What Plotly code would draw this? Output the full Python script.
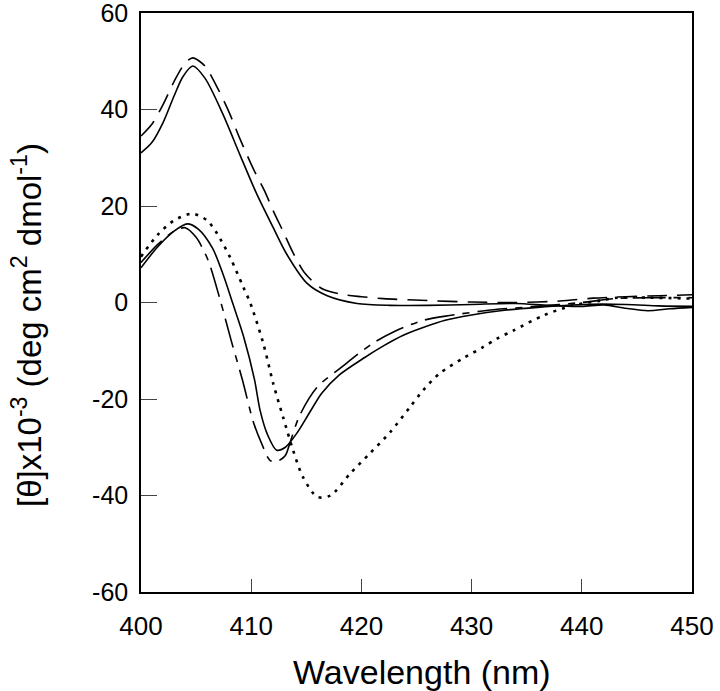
import plotly.graph_objects as go

# Upper solid curve
a_x = [400, 401.0, 402.0, 403.0, 403.8, 404.7, 405.8, 407.4, 409.0, 410.5, 412.0, 413.2, 415.1, 416.9, 419.6, 422.6,
       426, 430, 434, 437, 440, 442, 444, 446, 448, 450]
a_y = [31, 33.2, 37.3, 42.8, 46.8, 49, 46.5, 39.2, 30.5, 22.5, 15.5, 10.1, 3.9, 1.4, -0.2, -0.6,
       -0.6, -0.4, -0.2, -0.6, -0.8, -0.5, -1.2, -1.7, -1.3, -1.0]

# Upper dashed curve
b_x = [400, 401.0, 402.0, 403.0, 404.0, 404.7, 405.8, 407.0, 408.0, 409.0, 410.3, 411.2, 412.0, 412.9, 413.8, 414.9,
       416.4, 418.2, 420, 422, 426, 430, 434, 438, 441, 444, 447, 450]
b_y = [34.5, 37, 41, 45.8, 49.6, 50.7, 49, 44.2, 39.4, 33.8, 27.2, 23.2, 19, 14.7, 10.3, 6.0,
       2.9, 1.7, 1.2, 0.8, 0.4, 0.1, 0, 0.3, 0.9, 1.2, 1.4, 1.6]

# Dotted curve
c_x = [400, 401.5, 403, 404.7, 406, 406.9, 408.1, 409.3, 409.9, 411.1, 412.0, 412.9, 413.8, 414.7, 416.0, 417.2,
       419.0, 420.8, 422.6, 424.4, 425.6, 427.1, 429.2, 431.0, 432.3, 433.8, 436.5, 439.2, 441.7, 443.2, 446.2, 450]
c_y = [9.5, 14, 17, 18.4, 17, 14.3, 9.3, 3.1, 0, -8.5, -16.8, -23.8, -30.6, -36.2, -40.3, -40,
       -35.4, -31.2, -26.9, -21.7, -18.2, -14.7, -11.6, -9.3, -7.5, -5.8, -2.7, -0.6, 0.4, 1, 1, 0.8]

# Lower solid curve
d_x = [400, 401.5, 403, 404.2, 405.2, 406.5, 407.5, 408.3, 409.3, 410.3, 410.8, 411.5, 412.3, 413.1, 414.2, 415.3,
       416.4, 418.0, 420.3, 422.0, 423.8, 425.6, 427.6, 430, 432.6, 436, 440, 444, 447, 450]
d_y = [7.2, 11.5, 14.8, 16.3, 15.2, 11.2, 5.5, 0, -7, -16, -22.3, -27.5, -30.6, -30, -26.9, -22.8,
       -18.8, -15, -11.4, -9, -6.8, -5.2, -3.7, -2.6, -1.7, -1, -0.4, -0.4, -0.7, -0.8]

# Lower dash-dot curve
e_x = [400, 401.5, 403, 404.0, 405.0, 406.1, 407.2, 408.2, 409.2, 410.2, 411.0, 411.7, 412.3, 413.1, 413.5, 414.4,
       416.0, 418.2, 421.0, 423.0, 425.6, 428, 432, 436, 440, 443, 446, 450]
e_y = [8.3, 12, 14.8, 15.5, 13.5, 8.7, 0.4, -8, -16, -24.8, -29.5, -32.7, -33, -31.7, -29.2, -23.4,
       -17.5, -13.4, -8.5, -6, -3.7, -2.7, -1.5, -0.8, 0, 0.8, 1.0, 1.0]

x_ticks = [400, 410, 420, 430, 440, 450]
y_ticks = [-60, -40, -20, 0, 20, 40, 60]
y_ticklabels = ["-60", "-40", "-20", "0", "20", "40", "60"]

fig = go.Figure()
lw = 1.6
fig.add_trace(go.Scatter(x=a_x, y=a_y, mode="lines", line=dict(color="black", width=lw, shape="spline", smoothing=0.8), showlegend=False))
fig.add_trace(go.Scatter(x=b_x, y=b_y, mode="lines", line=dict(color="black", width=lw, shape="spline", smoothing=0.8, dash="20px,10px"), showlegend=False))
fig.add_trace(go.Scatter(x=c_x, y=c_y, mode="lines", line=dict(color="black", width=2.6, shape="spline", smoothing=0.8, dash="3px,6px"), showlegend=False))
fig.add_trace(go.Scatter(x=d_x, y=d_y, mode="lines", line=dict(color="black", width=lw, shape="spline", smoothing=0.8), showlegend=False))
fig.add_trace(go.Scatter(x=e_x, y=e_y, mode="lines", line=dict(color="black", width=lw, shape="spline", smoothing=0.8, dash="30px,8px,7px,8px"), showlegend=False))

font_family = "Liberation Sans, Arial, sans-serif"
fig.update_layout(
    width=720, height=691,
    margin=dict(l=141, r=28, t=13, b=99, autoexpand=False),
    plot_bgcolor="white", paper_bgcolor="white",
    font=dict(family=font_family, color="black", size=26),
    xaxis=dict(range=[400, 450], tickvals=x_ticks, ticks="inside", ticklen=13, tickwidth=1.3,
               showline=True, linecolor="black", linewidth=1.5, mirror=True, showgrid=False, zeroline=False,
               tickfont=dict(size=26), ticklabelstandoff=10, automargin=False, ticklabeloverflow="allow"),
    yaxis=dict(range=[-60, 60], tickvals=y_ticks, ticktext=y_ticklabels, ticks="inside", ticklen=16, tickwidth=1.3,
               showline=True, linecolor="black", linewidth=1.5, mirror=True, showgrid=False, zeroline=False,
               tickfont=dict(size=25), ticklabelstandoff=6, automargin=False, ticklabeloverflow="allow"),
    annotations=[
        dict(text="Wavelength (nm)", xref="paper", yref="paper", x=(422 - 141) / 551, y=(592 - 672) / 579,
             showarrow=False, font=dict(size=34), xanchor="center", yanchor="middle"),
        dict(text="[θ]x10<sup>-3</sup> (deg cm<sup>2</sup> dmol<sup>-1</sup>)", xref="paper", yref="paper",
             x=(27 - 141) / 551, y=(592 - 325) / 579, textangle=-90,
             showarrow=False, font=dict(size=33), xanchor="center", yanchor="middle"),
    ],
)
fig.write_html("out.html", config={"displayModeBar": False},
               post_script="document.body.style.margin='0';")
